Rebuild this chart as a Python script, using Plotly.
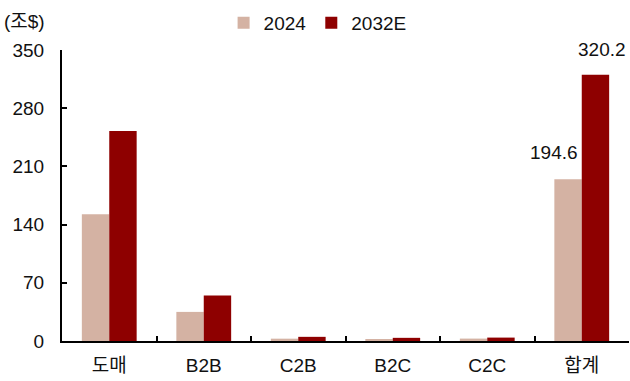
import plotly.graph_objects as go

# Market size by transaction type (unit: 조$)
categories = ["도매", "B2B", "C2B", "B2C", "C2C", "합계"]
parts = ["도매", "B2B", "C2B", "B2C", "C2C"]
values_2024_parts = [152.5, 35.0, 2.8, 1.4, 2.9]
values_2032_parts = [252.5, 54.8, 5.0, 3.8, 4.1]
total_2024 = 194.6
total_2032 = 320.2
values_2024 = values_2024_parts + [total_2024]
values_2032 = values_2032_parts + [total_2032]
series_names = ["2024", "2032E"]
y_ticks = [0, 70, 140, 210, 280, 350]

color_2024 = "#D4B2A3"
color_2032 = "#8E0000"
font_family = "Arial, 'Noto Sans CJK KR', sans-serif"
fs = 19

fig = go.Figure()
fig.add_trace(go.Bar(x=categories, y=values_2024, name=series_names[0],
                     marker=dict(color=color_2024, line=dict(width=0))))
fig.add_trace(go.Bar(x=categories, y=values_2032, name=series_names[1],
                     marker=dict(color=color_2032, line=dict(width=0))))

# Value labels on the totals
fig.add_annotation(x=categories[-1], y=total_2024, text=f"{total_2024:.1f}",
                   showarrow=False, xshift=-28, yshift=14, yanchor="bottom",
                   font=dict(size=fs, color="#111111", family=font_family))
fig.add_annotation(x=categories[-1], y=total_2032, text=f"{total_2032:.1f}",
                   showarrow=False, xshift=20, yshift=13, yanchor="bottom",
                   font=dict(size=fs, color="#111111", family=font_family))

# Unit label
fig.add_annotation(x=0, y=1, xref="paper", yref="paper", xshift=-60, yshift=29,
                   xanchor="left", yanchor="middle", text="(조$)", showarrow=False,
                   font=dict(size=fs, color="#111111", family=font_family))

fig.update_layout(
    width=630, height=381,
    margin=dict(l=62, r=1, t=50, b=40),
    paper_bgcolor="white", plot_bgcolor="white",
    barmode="group", bargap=0.42, bargroupgap=0,
    font=dict(family=font_family, size=fs, color="#111111"),
    showlegend=True,
    legend=dict(orientation="h", x=0.285, xanchor="left", y=1.093, yanchor="middle",
                font=dict(size=fs), itemwidth=30, traceorder="normal",
                bgcolor="rgba(0,0,0,0)", tracegroupgap=0),
    xaxis=dict(type="category", showline=True, linecolor="#000000", linewidth=2,
               ticks="inside", ticklen=5, tickwidth=2, tickcolor="#000000",
               tickson="boundaries", showgrid=False, zeroline=False,
               tickfont=dict(size=fs), ticklabelstandoff=6),
    yaxis=dict(range=[0, 350], tickvals=y_ticks, showline=True, linecolor="#000000",
               linewidth=2, ticks="inside", ticklen=5, tickwidth=2, tickcolor="#000000",
               showgrid=False, zeroline=False, tickfont=dict(size=fs),
               ticklabelstandoff=12),
)

fig.write_html("out.html")
